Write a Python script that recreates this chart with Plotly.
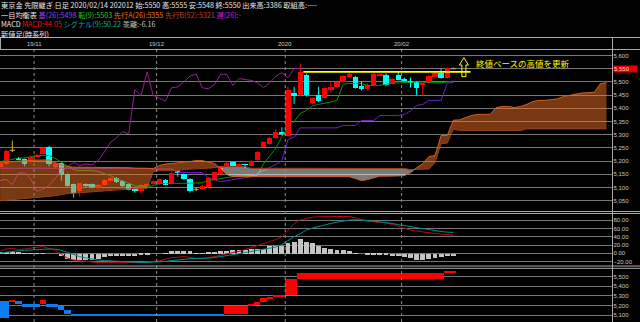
import plotly.graph_objects as go

W, H = 640, 322

# ---------------- data ----------------
month_idx = [6, 26, 47, 66]
month_labels = ["19/11", "19/12", "2020", "20/02"]

opens = [5179, 5189, 5241, 5212, 5208, 5196, 5218, 5227, 5255, 5177,
         5192, 5151, 5113, 5085, 5113, 5113, 5098, 5111, 5126, 5136,
         5123, 5113, 5094, 5088, 5107, 5113, 5113, 5130, 5116, 5164,
         5151, 5132, 5093, 5094, 5103, 5130, 5151, 5182, 5195, 5182,
         5188, 5183, 5206, 5255, 5265, 5288, 5310, 5297, 5458, 5449,
         5528, 5420, 5449, 5440, 5471, 5481, 5500, 5519, 5519, 5484,
         5472, 5487, 5525, 5528, 5494, 5525, 5513, 5502, 5500, 5487,
         5496, 5519, 5535, 5516, 5550]
highs = [5196, 5244, 5278, 5215, 5210, 5220, 5228, 5252, 5258, 5193,
         5194, 5153, 5115, 5118, 5116, 5115, 5113, 5131, 5138, 5139,
         5126, 5115, 5096, 5113, 5116, 5128, 5134, 5132, 5158, 5166,
         5153, 5134, 5101, 5110, 5139, 5160, 5183, 5197, 5198, 5192,
         5190, 5205, 5237, 5275, 5292, 5322, 5328, 5481, 5481, 5570,
         5532, 5442, 5481, 5482, 5499, 5503, 5526, 5534, 5522, 5503,
         5494, 5533, 5532, 5532, 5516, 5540, 5516, 5516, 5503, 5499,
         5526, 5540, 5550, 5555, 5555]
lows = [5175, 5186, 5234, 5203, 5180, 5192, 5215, 5225, 5180, 5172,
        5126, 5104, 5062, 5064, 5101, 5097, 5095, 5108, 5123, 5117,
        5101, 5089, 5080, 5075, 5104, 5110, 5110, 5108, 5113, 5141,
        5129, 5081, 5086, 5091, 5100, 5127, 5148, 5179, 5180, 5179,
        5174, 5180, 5203, 5252, 5262, 5285, 5297, 5294, 5417, 5446,
        5445, 5415, 5424, 5437, 5459, 5478, 5497, 5516, 5475, 5468,
        5469, 5484, 5522, 5484, 5490, 5506, 5503, 5478, 5449, 5449,
        5493, 5516, 5513, 5513, 5548]
closes = [5192, 5240, 5241, 5206, 5189, 5217, 5225, 5250, 5189, 5190,
          5149, 5107, 5081, 5116, 5104, 5100, 5111, 5129, 5135, 5120,
          5104, 5092, 5085, 5111, 5113, 5126, 5131, 5111, 5155, 5156,
          5132, 5085, 5093, 5107, 5136, 5157, 5180, 5194, 5183, 5189,
          5186, 5202, 5234, 5271, 5288, 5312, 5303, 5471, 5448, 5538,
          5449, 5439, 5427, 5478, 5481, 5500, 5522, 5530, 5478, 5474,
          5490, 5529, 5529, 5487, 5513, 5509, 5506, 5497, 5478, 5496,
          5522, 5535, 5516, 5551, 5550]

tenkan = [5198, 5202, 5206, 5211, 5212, 5217, 5221, 5221, 5221, 5210,
          5196, 5179, 5168, 5164, 5164, 5164, 5160, 5153, 5145, 5134,
          5126, 5118, 5107, 5103, 5103, 5107, 5115, 5115, 5116, 5116,
          5116, 5116, 5118, 5118, 5126, 5130, 5134, 5137, 5141, 5143,
          5145, 5145, 5145, 5190, 5219, 5248, 5293, 5327, 5350, 5381,
          5392, 5409, 5415, 5419, 5424, 5430, 5491, 5494, 5494, 5494,
          5487, 5487, 5487, 5490, 5496, 5496, 5497, 5500, 5500, 5499,
          5497, 5497, 5497, 5500, 5503]
kijun = [5173, 5173, 5173, 5173, 5173, 5173, 5173, 5173, 5173, 5173,
         5173, 5173, 5173, 5173, 5173, 5173, 5173, 5173, 5173, 5173,
         5173, 5173, 5173, 5173, 5173, 5170, 5170, 5170, 5170, 5157,
         5157, 5157, 5157, 5157, 5137, 5130, 5122, 5126, 5130, 5134,
         5137, 5141, 5153, 5164, 5175, 5187, 5202, 5282, 5290, 5326,
         5326, 5326, 5326, 5326, 5326, 5326, 5335, 5335, 5335, 5354,
         5354, 5354, 5373, 5373, 5373, 5373, 5377, 5390, 5411, 5415,
         5430, 5430, 5430, 5495, 5498]
senkou_a = [5196, 5196, 5198, 5200, 5200, 5202, 5204, 5204, 5204, 5194,
            5185, 5179, 5177, 5177, 5177, 5175, 5175, 5175, 5175, 5175,
            5175, 5175, 5173, 5173, 5172, 5172, 5183, 5189, 5191, 5193,
            5194, 5198, 5202, 5202, 5196, 5191, 5172, 5149, 5141, 5141,
            5141, 5141, 5141, 5141, 5141, 5141, 5141, 5141, 5141, 5141,
            5141, 5141, 5141, 5141, 5141, 5141, 5141, 5141, 5134, 5126,
            5130, 5137, 5143, 5143, 5143, 5143, 5145, 5156, 5175, 5190,
            5217, 5221, 5297, 5297, 5355, 5356, 5365, 5373, 5377, 5377,
            5377, 5403, 5407, 5407, 5403, 5407, 5415, 5426, 5430, 5430,
            5432, 5436, 5445, 5449, 5455, 5458, 5459, 5461, 5493, 5497]
senkou_b = [5050, 5052, 5054, 5056, 5058, 5059, 5061, 5063, 5065, 5069,
            5073, 5077, 5078, 5080, 5082, 5084, 5086, 5088, 5090, 5092,
            5094, 5094, 5096, 5096, 5097, 5160, 5164, 5164, 5164, 5164,
            5168, 5170, 5172, 5172, 5173, 5175, 5179, 5179, 5179, 5179,
            5179, 5173, 5173, 5173, 5173, 5173, 5173, 5173, 5173, 5173,
            5173, 5173, 5173, 5173, 5173, 5173, 5173, 5173, 5173, 5173,
            5173, 5173, 5173, 5173, 5173, 5173, 5172, 5168, 5168, 5170,
            5170, 5194, 5267, 5268, 5321, 5316, 5316, 5316, 5316, 5316,
            5316, 5316, 5316, 5316, 5316, 5316, 5322, 5322, 5322, 5322,
            5322, 5322, 5322, 5322, 5322, 5322, 5322, 5322, 5322, 5322]

macd = [4.9, 10.4, 12.3, 9.1, 10.4, 12.3, 15.3, 16.5, 11.6, 7.9,
        -2.0, -11.9, -16.3, -18.0, -19.8, -21.0, -22.2, -22.2, -22.2, -22.2,
        -23.0, -23.7, -23.7, -22.5, -21.0, -19.3, -18.0, -14.3, -10.6, -9.4,
        -8.1, -9.4, -11.9, -11.9, -10.6, -8.1, -4.4, -1.5, 1.7, 4.9,
        9.1, 14.1, 17.8, 23.2, 27.2, 33.1, 39.5, 56.0, 70.9, 80.7,
        84.4, 86.9, 88.1, 88.1, 88.9, 88.9, 89.4, 88.9, 85.7, 80.7,
        77.0, 75.8, 74.6, 73.3, 69.6, 64.7, 61.0, 56.0, 53.6, 51.1,
        48.6, 47.9, 46.2, 45.0, 44.05]
signal = [1, 3, 5, 6, 7, 8, 9, 10, 10.5, 10,
          7.5, 2.5, -3, -8, -11, -14, -16, -17.5, -18.5, -19.5,
          -20, -21, -22, -22, -22, -21.5, -20.5, -19.5, -17.5, -15.5,
          -14, -13, -12.5, -12.5, -11.5, -10, -8, -6, -3.5, -1,
          2, 4.5, 6.5, 8.5, 11, 15, 21, 31, 40, 47,
          56, 61, 65, 68, 72, 75, 78, 80, 81, 80.5,
          79, 77.5, 76, 74, 72, 69, 66.5, 64, 61, 58.5,
          56, 54, 52.5, 51, 50.22]
macd_hist = [5, 5, 5, 4, 2, 2, 1, 1, 0, 0,
             -6, -12, -15, -15, -16, -16, -12, -8, -6, -6,
             -6, -6, -6, -3, -3, 0, 0, 2, 6, 6,
             6, 6, 2, 2, 3, 3, 7, 7, 10, 10,
             10, 12, 12, 12, 18, 18, 18, 26, 29, 35,
             29, 25, 18, 15, 12, 10, 10, 6, 2, 0,
             -2, -2, -2, -4, -6, -6, -8, -10, -14, -14,
             -12, -10, -8, -6, -6.16]

# 新値足 (time-series new-price line) blocks
nb_start = [0, 2, 3, 4, 7, 8, 10, 11, 12, 37, 41, 42, 43, 44, 45, 47, 49, 73]
nb_days = [2, 1, 1, 3, 1, 2, 1, 1, 25, 4, 1, 1, 1, 1, 2, 2, 24, 2]
nb_low = [5068, 5242, 5209, 5192, 5209, 5192, 5149, 5107, 5085, 5107,
          5194, 5202, 5234, 5271, 5288, 5312, 5471, 5538]
nb_high = [5244, 5254, 5244, 5209, 5255, 5209, 5192, 5149, 5107, 5194,
           5204, 5234, 5271, 5288, 5312, 5471, 5538, 5551]
nb_up = [0, 1, 0, 0, 1, 0, 0, 0, 0, 1, 1, 1, 1, 1, 1, 1, 1, 1]

volume = 3386
lag = 25

# ---------------- helpers ----------------
n = len(closes)
idx = list(range(n))
lead_idx = list(range(len(senkou_a)))
chikou_idx = list(range(n - lag))
chikou = closes[lag:]


def py(ypx):
    return 1 - ypx / H


def pxx(xpx):
    return xpx / W


FONT_JP = "Noto Sans CJK JP"
FONT_NUM = "Liberation Sans"

fig = go.Figure()

# ---------------- MACD panel ----------------
fig.add_trace(go.Bar(x=idx, y=macd_hist, width=0.8, yaxis="y2",
                     marker=dict(color="#c4c4c4", line=dict(width=0))))
fig.add_trace(go.Scatter(x=idx, y=macd, mode="lines", yaxis="y2",
                         line=dict(color="rgb(175,15,15)", width=1)))
fig.add_trace(go.Scatter(x=idx, y=signal, mode="lines", yaxis="y2",
                         line=dict(color="rgb(0,140,140)", width=1)))

# ---------------- new price panel ----------------
fig.add_trace(go.Bar(
    x=[s + (d - 1) / 2 for s, d in zip(nb_start, nb_days)],
    base=nb_low,
    y=[max(h - l, 12) for h, l in zip(nb_high, nb_low)],
    width=nb_days, yaxis="y3",
    marker=dict(color=["#ff0000" if u else "#0a7ef0" for u in nb_up],
                line=dict(width=0))))

# ---------------- main panel: ichimoku lines ----------------
fig.add_trace(go.Scatter(x=chikou_idx, y=chikou, mode="lines",
                         line=dict(color="rgb(150,30,150)", width=1)))
fig.add_trace(go.Scatter(x=idx, y=kijun, mode="lines",
                         line=dict(color="rgb(110,30,200)", width=1)))
fig.add_trace(go.Scatter(x=idx, y=tenkan, mode="lines",
                         line=dict(color="rgb(0,150,0)", width=1)))

# ---------------- candles ----------------
groups = {"up": ([], []), "dn": ([], []), "dj": ([], [])}
body = {"up": ([], [], []), "dn": ([], [], [])}
for i, (o, h, l, c) in enumerate(zip(opens, highs, lows, closes)):
    k = "dj" if o == c else ("up" if c > o else "dn")
    xs, ys = groups[k]
    xs += [i, i, None]
    ys += [l, h, None]
    if k == "dj":
        xs += [i - 0.42, i + 0.42, None]
        ys += [c, c, None]
    else:
        bx, bb, bh = body[k]
        bx.append(i)
        bb.append(min(o, c))
        bh.append(max(abs(c - o), 2.5))

colors = {"up": "#ff0000", "dn": "#00ffff", "dj": "rgb(200,180,40)"}
for k in ("up", "dn", "dj"):
    xs, ys = groups[k]
    fig.add_trace(go.Scatter(x=xs, y=ys, mode="lines",
                             line=dict(color=colors[k], width=1)))
for k in ("up", "dn"):
    bx, bb, bh = body[k]
    fig.add_trace(go.Bar(x=bx, base=bb, y=bh, width=0.88,
                         marker=dict(color=colors[k], line=dict(width=0))))

# ---------------- cloud (drawn over candles, translucent) ----------------
runs = []
cur = None
cur_sign = None
for i in lead_idx:
    a, b = senkou_a[i], senkou_b[i]
    s = a >= b
    if cur is None:
        cur, cur_sign = [(i, a, b)], s
        continue
    if s != cur_sign:
        d0 = senkou_a[i - 1] - senkou_b[i - 1]
        d1 = a - b
        t = d0 / (d0 - d1)
        xc = (i - 1) + t
        yc = senkou_a[i - 1] + t * (a - senkou_a[i - 1])
        cur.append((xc, yc, yc))
        runs.append((cur_sign, cur))
        cur, cur_sign = [(xc, yc, yc), (i, a, b)], s
    else:
        cur.append((i, a, b))
runs.append((cur_sign, cur))

for sign, run in runs:
    xs = [p[0] for p in run] + [p[0] for p in reversed(run)]
    ys = [p[1] for p in run] + [p[2] for p in reversed(run)]
    fig.add_trace(go.Scatter(
        x=xs, y=ys, mode="none", fill="toself",
        fillcolor="rgba(250,118,35,0.48)" if sign else "rgba(255,255,255,0.48)"))

fig.add_trace(go.Scatter(x=lead_idx, y=senkou_b, mode="lines",
                         line=dict(color="rgb(150,65,20)", width=1)))
fig.add_trace(go.Scatter(x=lead_idx, y=senkou_a, mode="lines",
                         line=dict(color="rgb(215,95,30)", width=1)))

# ---------------- annotations / shapes ----------------
shapes = []
annotations = []
grey = "#a8a8a8"
for yv in (37.5, 49.5, 211.5, 213.5, 266.0, 268.3):
    shapes.append(dict(type="line", xref="paper", yref="paper", x0=0, x1=1,
                       y0=py(yv), y1=py(yv), line=dict(color=grey, width=1)))
shapes.append(dict(type="line", xref="paper", yref="paper", x0=pxx(612.5), x1=pxx(612.5),
                   y0=0, y1=py(37.5), line=dict(color=grey, width=1)))
shapes.append(dict(type="line", xref="paper", yref="paper", x0=pxx(0.5), x1=pxx(0.5),
                   y0=py(49.5), y1=py(37.5), line=dict(color=grey, width=1)))
for mi, ml in zip(month_idx, month_labels):
    shapes.append(dict(type="line", xref="x", yref="paper", x0=mi - 0.45, x1=mi - 0.45,
                       y0=0, y1=py(50), line=dict(color="#8c8c8c", width=1, dash="dot")))
    annotations.append(dict(x=mi - 0.45, y=py(43.5), xref="x", yref="paper", text=ml,
                            showarrow=False, xanchor="center", yanchor="middle",
                            font=dict(family=FONT_NUM, size=6, color="#c8c8c8")))

# previous closing high line + arrow + note
hi_idx = max(range(n - 2), key=lambda i: closes[i])
shapes.append(dict(type="line", xref="x", yref="y", x0=hi_idx + 0.5, x1=n + 1.8,
                   y0=closes[hi_idx], y1=closes[hi_idx],
                   line=dict(color="#ffff00", width=1.8)))
shapes.append(dict(type="path", xref="x", yref="y",
                   path="M 75.39,5520 L 75.39,5564 L 74.98,5564 L 75.72,5592 "
                        "L 76.46,5564 L 76.05,5564 L 76.05,5520 Z",
                   line=dict(color="#ffff00", width=1)))
annotations.append(dict(x=77.4, y=5573, xref="x", yref="y", text="終値ベースの高値を更新",
                        showarrow=False, xanchor="left", yanchor="middle",
                        font=dict(family=FONT_JP, size=8.5, color="#ffff00")))

# current price tag
annotations.append(dict(x=pxx(613), y=closes[-1], xref="paper", yref="y",
                        text=f"{closes[-1]:,}", showarrow=False, xanchor="left",
                        yanchor="middle", bgcolor="#e00000", width=23, height=6,
                        borderpad=0, align="left",
                        font=dict(family=FONT_NUM, size=6, color="#ffd0d0")))

# header lines
hdr_font = dict(family=FONT_JP, size=7.2, color="#e8e8e8")
line1 = (f"東京金 先限継ぎ 日足 2020/02/14 202012 始:{opens[-1]} 高:{highs[-1]} "
         f"安:{lows[-1]} 終:{closes[-1]} 出来高:{volume} 取組高:----")
line2 = ("一目均衡表 "
         f"<span style='color:#9048ff'>基(26):{kijun[-1]}</span> "
         f"<span style='color:#20c820'>転(9):{tenkan[-1]}</span> "
         f"<span style='color:#f07018'>先行A(26):{senkou_a[n - 1]}</span> "
         f"<span style='color:#b84820'>先行B(52):{senkou_b[n - 1]}</span> "
         "<span style='color:#d020d0'>遅(26):-</span>")
line3 = ("MACD "
         f"<span style='color:#e81010'>MACD:{macd[-1]:.2f}</span> "
         f"<span style='color:#00b0b0'>シグナル(9):{signal[-1]:.2f}</span> "
         f"<span style='color:#c0c0c0'>乖離:{macd_hist[-1]:.2f}</span>")
line4 = "新値足(時系列)"
for txt, yv in ((line1, 5.0), (line2, 14.8), (line3, 24.3), (line4, 33.6)):
    annotations.append(dict(x=0, y=py(yv), xref="paper", yref="paper", text=txt,
                            showarrow=False, xanchor="left", yanchor="middle",
                            height=8, borderpad=0, font=hdr_font))

tickfont = dict(family=FONT_NUM, size=6, color="#c8c8c8")
gridc = "#767676"
common_y = dict(side="right", anchor="x", showline=False, zeroline=False, ticks="",
                gridcolor=gridc, gridwidth=1, tickfont=tickfont, fixedrange=True)

fig.update_layout(
    width=W, height=H, margin=dict(l=0, r=0, t=0, b=0),
    paper_bgcolor="black", plot_bgcolor="black", showlegend=False,
    barmode="overlay", bargap=0,
    xaxis=dict(domain=[0, 612.5 / W], range=[-0.016, 99.98], showgrid=False,
               zeroline=False, showticklabels=False, showline=False, ticks=""),
    yaxis=dict(domain=[py(211.5), py(50)], range=[5009, 5621], dtick=50, tick0=0,
               tickformat=",", **common_y),
    yaxis2=dict(domain=[py(266), py(213.5)], range=[-30.5, 95.9], dtick=20, tick0=0,
                tickformat=".2f", **common_y),
    yaxis3=dict(domain=[0, py(268.3)], range=[5030, 5587], dtick=100, tick0=0,
                tickformat=",", **common_y),
    shapes=shapes, annotations=annotations,
)

fig.write_html("out.html")
